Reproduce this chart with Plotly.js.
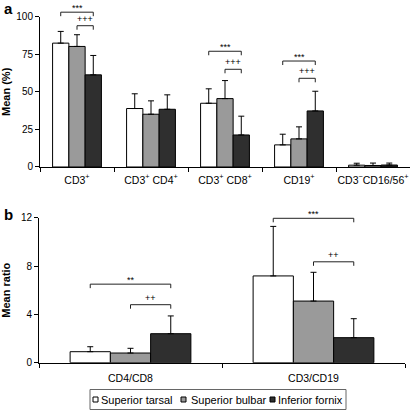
<!DOCTYPE html>
<html>
<head>
<meta charset="utf-8">
<script src="https://cdn.plot.ly/plotly-3.0.1.min.js"></script>
<style>html,body{margin:0;padding:0;background:#fff;}#chart{width:410px;height:412px;}</style>
</head>
<body>
<div id="chart"></div>
<script>
// ---- Data (panel a: mean %) ----
const categoriesA = ['CD3<sup>+</sup>', 'CD3<sup>+</sup> CD4<sup>+</sup>', 'CD3<sup>+</sup> CD8<sup>+</sup>', 'CD19<sup>+</sup>', 'CD3<sup>−</sup>CD16/56<sup>+</sup>'];
const tarsalA = [82.4, 38.9, 42.4, 14.7, 1.2];
const tarsalErrA = [7.8, 9.8, 9.6, 7.1, 1.3];
const bulbarA = [80.2, 35.1, 45.5, 18.7, 1.0];
const bulbarErrA = [7.8, 8.9, 12.0, 8.0, 1.6];
const fornixA = [61.3, 38.4, 21.3, 37.3, 1.3];
const fornixErrA = [12.9, 9.6, 12.5, 13.1, 1.3];

// ---- Data (panel b: mean ratio) ----
const categoriesB = ['CD4/CD8', 'CD3/CD19'];
const tarsalB = [0.91, 7.18];
const tarsalErrB = [0.41, 4.1];
const bulbarB = [0.80, 5.10];
const bulbarErrB = [0.39, 2.38];
const fornixB = [2.40, 2.07];
const fornixErrB = [1.47, 1.57];

const seriesNames = ['Superior tarsal', 'Superior bulbar', 'Inferior fornix'];
const seriesColors = ['#ffffff', '#9a9a9a', '#2f2f2f'];

// ---- Significance brackets ----
const sigCatA = [0, 0, 2, 2, 3, 3];
const sigFromA = [0, 1, 0, 1, 0, 1];   // 0 = tarsal, 1 = bulbar
const sigToA = [2, 2, 2, 2, 2, 2];     // 2 = fornix
const sigYA = [103, 94, 77, 65, 70.5, 59];
const sigLabelA = ['***', '+++', '***', '+++', '***', '+++'];

const sigCatB = [0, 0, 1, 1];
const sigFromB = [0, 1, 0, 1];
const sigToB = [2, 2, 2, 2];
const sigYB = [6.5, 4.8, 11.95, 8.35];
const sigLabelB = ['**', '++', '***', '++'];

const FONT = 'Liberation Sans, Arial, sans-serif';
const bargap = 0.34;
const barW = (1 - bargap) / 3;
const rangeA = [0, 100], rangeB = [0, 12];
const domAy = [0.5947, 0.9595], domBy = [0.1197, 0.4716];
const W = 410, H = 412;

function errObj(arr) {
  return {type: 'data', array: arr, arrayminus: arr.map(() => 0), symmetric: false,
          color: '#000', thickness: 1, width: 3};
}

const valsA = [tarsalA, bulbarA, fornixA], errsA = [tarsalErrA, bulbarErrA, fornixErrA];
const valsB = [tarsalB, bulbarB, fornixB], errsB = [tarsalErrB, bulbarErrB, fornixErrB];
const traces = [];
for (let s = 0; s < 3; s++) {
  traces.push({type: 'bar', x: categoriesA, y: valsA[s], name: seriesNames[s],
    marker: {color: seriesColors[s], line: {color: '#000', width: 1}}, error_y: errObj(errsA[s]),
    xaxis: 'x', yaxis: 'y', hoverinfo: 'skip'});
}
for (let s = 0; s < 3; s++) {
  traces.push({type: 'bar', x: categoriesB, y: valsB[s], name: seriesNames[s],
    marker: {color: seriesColors[s], line: {color: '#000', width: 1}}, error_y: errObj(errsB[s]),
    xaxis: 'x2', yaxis: 'y2', hoverinfo: 'skip'});
}

const shapes = [], annotations = [];
function addBrackets(cats, froms, tos, ys, labels, xref, yref, range, dom) {
  const pxH = (dom[1] - dom[0]) * H;
  const drop = 4 / pxH;
  for (let i = 0; i < cats.length; i++) {
    const x0 = cats[i] + (froms[i] - 1) * barW;
    const x1 = cats[i] + (tos[i] - 1) * barW;
    const yd = (ys[i] - range[0]) / (range[1] - range[0]);
    const ln = {color: '#222', width: 1};
    shapes.push({type: 'line', xref: xref, yref: yref + ' domain', x0: x0, x1: x1, y0: yd, y1: yd, line: ln});
    shapes.push({type: 'line', xref: xref, yref: yref + ' domain', x0: x0, x1: x0, y0: yd, y1: yd - drop, line: ln});
    shapes.push({type: 'line', xref: xref, yref: yref + ' domain', x0: x1, x1: x1, y0: yd, y1: yd - drop, line: ln});
    annotations.push({xref: xref, yref: yref + ' domain', x: (x0 + x1) / 2, y: yd, yanchor: 'bottom',
      yshift: labels[i].indexOf('+') >= 0 ? 0 : -3,
      text: labels[i], showarrow: false, font: {family: FONT, size: 9, color: '#000'}});
  }
}
addBrackets(sigCatA, sigFromA, sigToA, sigYA, sigLabelA, 'x', 'y', rangeA, domAy);
addBrackets(sigCatB, sigFromB, sigToB, sigYB, sigLabelB, 'x2', 'y2', rangeB, domBy);

annotations.push({xref: 'paper', yref: 'paper', x: 0.005, y: 1.0, xanchor: 'left', yanchor: 'top', yshift: 2,
  text: '<b>a</b>', showarrow: false, font: {family: FONT, size: 15, color: '#000'}});
annotations.push({xref: 'paper', yref: 'paper', x: 0.005, y: 1 - 204 / H, xanchor: 'left', yanchor: 'top',
  text: '<b>b</b>', showarrow: false, font: {family: FONT, size: 15, color: '#000'}});

// ---- Legend box (drawn as layout shapes + text) ----
const legendBox = {x0: 90, x1: 346, y0: 389.5, y1: 409.5};
const legendSwatchX = [93, 181, 270];
const legendTextX = [99, 189, 276];
const legendMidY = 399.5;
shapes.push({type: 'rect', xref: 'paper', yref: 'paper', x0: legendBox.x0 / W, x1: legendBox.x1 / W,
  y0: (H - legendBox.y1) / H, y1: (H - legendBox.y0) / H, line: {color: '#666', width: 1}, fillcolor: '#fff'});
for (let s = 0; s < 3; s++) {
  shapes.push({type: 'rect', xref: 'paper', yref: 'paper', x0: legendSwatchX[s] / W, x1: (legendSwatchX[s] + 5) / W,
    y0: (H - legendMidY - 2.5) / H, y1: (H - legendMidY + 2.5) / H,
    line: {color: '#000', width: 1}, fillcolor: seriesColors[s]});
  annotations.push({xref: 'paper', yref: 'paper', x: legendTextX[s] / W, y: (H - legendMidY) / H,
    xanchor: 'left', yanchor: 'middle', text: seriesNames[s], showarrow: false,
    font: {family: FONT, size: 11, color: '#000'}});
}

const xCommon = {type: 'category', showline: true, linecolor: '#000', linewidth: 1, ticks: 'outside',
  tickson: 'boundaries', ticklen: 4, tickcolor: '#000', showgrid: false, zeroline: false, tickangle: 0,
  ticklabelstandoff: 3, tickfont: {family: FONT, size: 10.5, color: '#000'}, fixedrange: true};
const yCommon = {showline: true, linecolor: '#000', linewidth: 1, ticks: 'outside', ticklen: 4,
  tickcolor: '#000', showgrid: false, zeroline: false, tickfont: {family: FONT, size: 10, color: '#000'},
  fixedrange: true};

const layout = {
  width: W, height: H, margin: {l: 0, r: 0, t: 0, b: 0},
  paper_bgcolor: '#fff', plot_bgcolor: 'rgba(0,0,0,0)',
  barmode: 'group', bargap: bargap, bargroupgap: 0,
  font: {family: FONT, color: '#000'},
  xaxis: Object.assign({}, xCommon, {domain: [40 / W, 1], anchor: 'y'}),
  yaxis: Object.assign({}, yCommon, {domain: domAy, range: rangeA, tickvals: [0, 25, 50, 75, 100], anchor: 'x',
    title: {text: '<b>Mean (%)</b>', font: {family: FONT, size: 11, color: '#000'}, standoff: 6}}),
  xaxis2: Object.assign({}, xCommon, {domain: [39 / W, 405 / W], anchor: 'y2', ticklabelstandoff: 6}),
  yaxis2: Object.assign({}, yCommon, {domain: domBy, range: rangeB, tickvals: [0, 4, 8, 12], anchor: 'x2',
    title: {text: '<b>Mean ratio</b>', font: {family: FONT, size: 11, color: '#000'}, standoff: 10}}),
  showlegend: false,
  shapes: shapes, annotations: annotations
};

Plotly.newPlot('chart', traces, layout, {displayModeBar: false, staticPlot: true});
</script>
</body>
</html>
